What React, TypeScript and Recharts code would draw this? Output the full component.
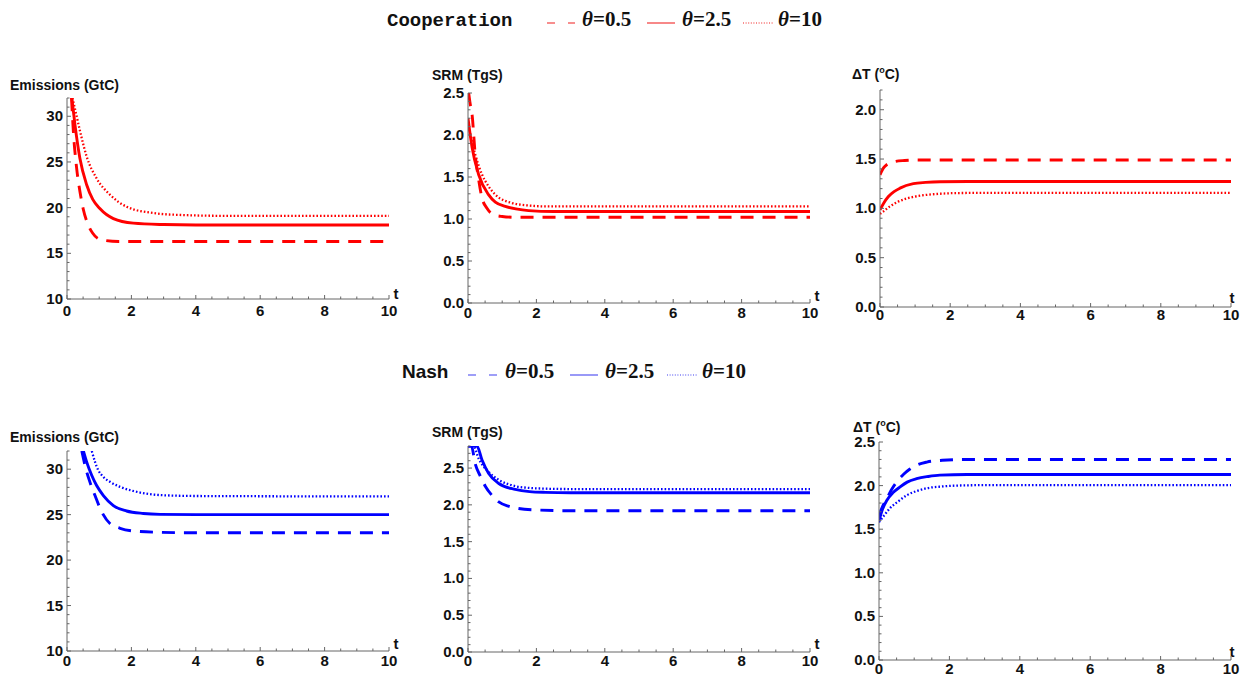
import React from "react";
import { LineChart, Line, XAxis, YAxis } from "recharts";

// time points (t) and values, one pair of arrays per curve
// Cooperation — emissions (GtC)
const coopEmisDashT = [0.14, 0.2, 0.3, 0.4, 0.5, 0.66, 0.8, 0.97, 1.2, 1.6, 2.5, 10];
const coopEmisDashV = [32, 28.2, 24.3, 21.8, 19.9, 18.1, 17.2, 16.6, 16.4, 16.3, 16.3, 16.3];
const coopEmisSolidT = [0.15, 0.25, 0.4, 0.61, 0.8, 1.02, 1.44, 2.06, 3, 4, 10];
const coopEmisSolidV = [32, 29.0, 25.4, 22.5, 20.9, 19.9, 18.8, 18.3, 18.15, 18.1, 18.1];
const coopEmisDotT = [0.17, 0.3, 0.43, 0.61, 0.92, 1.34, 1.85, 2.7, 3.5, 5, 10];
const coopEmisDotV = [32, 30.0, 28.0, 25.6, 23.2, 21.4, 20.1, 19.4, 19.2, 19.1, 19.1];

// Cooperation — SRM (TgS)
const coopSrmDashT = [0.02, 0.06, 0.12, 0.21, 0.3, 0.41, 0.55, 0.75, 1.0, 1.4, 2, 10];
const coopSrmDashV = [2.5, 2.38, 2.24, 1.77, 1.5, 1.25, 1.13, 1.05, 1.03, 1.02, 1.02, 1.02];
const coopSrmSolidT = [0, 0.12, 0.31, 0.6, 0.8, 1.09, 1.4, 1.77, 2.5, 4, 10];
const coopSrmSolidV = [2.2, 1.85, 1.53, 1.29, 1.2, 1.15, 1.12, 1.1, 1.09, 1.09, 1.09];
const coopSrmDotT = [0, 0.1, 0.21, 0.41, 0.6, 0.8, 1.29, 1.8, 2.26, 3.5, 10];
const coopSrmDotV = [2.15, 1.95, 1.77, 1.53, 1.39, 1.29, 1.19, 1.16, 1.15, 1.15, 1.15];

// Cooperation — temperature change (°C)
const coopTempDashT = [0, 0.1, 0.2, 0.43, 0.7, 1, 2, 10];
const coopTempDashV = [1.34, 1.41, 1.445, 1.475, 1.485, 1.49, 1.49, 1.49];
const coopTempSolidT = [0, 0.1, 0.24, 0.4, 0.57, 0.95, 1.3, 1.71, 2.5, 10];
const coopTempSolidV = [0.985, 1.05, 1.12, 1.17, 1.205, 1.25, 1.263, 1.27, 1.272, 1.272];
const coopTempDotT = [0, 0.1, 0.28, 0.5, 0.76, 1.0, 1.33, 1.7, 2.2, 3, 10];
const coopTempDotV = [0.944, 0.97, 1.02, 1.065, 1.1, 1.12, 1.137, 1.148, 1.155, 1.157, 1.157];

// Nash — emissions (GtC)
const nashEmisDashT = [0.46, 0.56, 0.71, 0.87, 1.08, 1.34, 1.65, 2.06, 2.9, 4, 10];
const nashEmisDashV = [32, 30.4, 28.6, 27.1, 25.3, 24.0, 23.5, 23.2, 23.05, 23.0, 23.0];
const nashEmisSolidT = [0.51, 0.61, 0.77, 0.92, 1.13, 1.44, 1.85, 2.37, 2.89, 4, 10];
const nashEmisSolidV = [32, 30.8, 29.3, 28.2, 27.1, 26.0, 25.4, 25.13, 25.03, 25.0, 25.0];
const nashEmisDotT = [0.77, 0.87, 0.97, 1.13, 1.34, 1.65, 2.06, 2.47, 2.9, 4, 10];
const nashEmisDotV = [32, 30.8, 29.9, 29.15, 28.6, 28.05, 27.6, 27.3, 27.15, 27.05, 27.0];

// Nash — SRM (TgS)
const nashSrmDashT = [0, 0.1, 0.21, 0.35, 0.51, 0.7, 0.9, 1.2, 1.48, 2, 3, 10];
const nashSrmDashV = [2.8, 2.8, 2.56, 2.4, 2.25, 2.13, 2.04, 1.98, 1.95, 1.93, 1.92, 1.92];
const nashSrmSolidT = [0, 0.26, 0.41, 0.6, 0.9, 1.38, 1.8, 2.26, 3, 10];
const nashSrmSolidV = [2.8, 2.8, 2.61, 2.43, 2.29, 2.21, 2.18, 2.17, 2.165, 2.165];
const nashSrmDotT = [0, 0.16, 0.31, 0.6, 0.9, 1.38, 1.8, 2.26, 3, 10];
const nashSrmDotV = [2.8, 2.8, 2.63, 2.45, 2.34, 2.255, 2.23, 2.22, 2.215, 2.215];

// Nash — temperature change (°C)
const nashTempDashT = [0, 0.1, 0.22, 0.35, 0.5, 0.7, 0.88, 1.1, 1.36, 1.8, 2.5, 10];
const nashTempDashV = [1.66, 1.76, 1.85, 1.95, 2.04, 2.13, 2.19, 2.24, 2.27, 2.29, 2.3, 2.3];
const nashTempSolidT = [0, 0.1, 0.22, 0.4, 0.6, 0.8, 1.07, 1.4, 1.73, 2.5, 10];
const nashTempSolidV = [1.6, 1.73, 1.83, 1.92, 1.985, 2.04, 2.08, 2.105, 2.12, 2.127, 2.127];
const nashTempDotT = [0, 0.15, 0.31, 0.55, 0.79, 1.05, 1.36, 1.8, 2.2, 3, 10];
const nashTempDotV = [1.58, 1.66, 1.74, 1.82, 1.89, 1.935, 1.97, 1.99, 2.0, 2.005, 2.005];

const thetaLabels = ["0.5", "2.5", "10"];

const RED = "#ff0000";
const BLUE = "#0000ff";
const SANS = '"Liberation Sans", Arial, sans-serif';
const SERIF = '"Liberation Serif", "Times New Roman", serif';
const MONO = '"Liberation Mono", "DejaVu Sans Mono", monospace';
const AXIS = "#666";

const PAD_L = 50;
const PAD_T = 20;
const PAD_R = 24;
const PAD_B = 32;

type Style = "dash" | "solid" | "dot";

function pts(t: number[], v: number[]) {
  return t.map((x, i) => ({ t: x, v: v[i] }));
}

function steps(a: number, b: number, s: number) {
  const out: number[] = [];
  const n = Math.round((b - a) / s);
  for (let i = 0; i <= n; i++) out.push(Math.round((a + i * s) * 1000) / 1000);
  return out;
}

function isMajor(v: number, major: number) {
  const r = v / major;
  return Math.abs(r - Math.round(r)) < 1e-6;
}

const lineStyle: Record<Style, { strokeWidth: number; strokeDasharray?: string }> = {
  solid: { strokeWidth: 2.9 },
  dash: { strokeWidth: 2.9, strokeDasharray: "13 9" },
  dot: { strokeWidth: 2.3, strokeDasharray: "1.6 2" },
};

type PanelProps = {
  box: { x0: number; x1: number; yTop: number; yBot: number };
  yDomain: [number, number];
  yMajor: number;
  yMinor: number;
  decimals: number;
  color: string;
  labelDy: number; // baseline of x tick labels below the axis
  tDx: number;
  tDy: number;
  series: { style: Style; data: { t: number; v: number }[] }[];
};

function Panel({ box, yDomain, yMajor, yMinor, decimals, color, labelDy, tDx, tDy, series }: PanelProps) {
  const w = box.x1 - box.x0;
  const h = box.yBot - box.yTop;
  const xTicks = steps(0, 10, 0.5);
  const yTicks = steps(yDomain[0], yDomain[1], yMinor);

  const yTick = (p: any) => {
    const major = isMajor(p.payload.value, yMajor);
    return (
      <g>
        <line x1={p.x} x2={p.x + (major ? 4 : 2.5)} y1={p.y} y2={p.y} stroke={AXIS} />
        {major && (
          <text x={p.x - 4} y={p.y + 5} textAnchor="end" fontFamily={SANS} fontWeight="bold" fontSize={15} fill="#111">
            {Number(p.payload.value).toFixed(decimals)}
          </text>
        )}
      </g>
    );
  };

  const xTick = (p: any) => {
    const major = isMajor(p.payload.value, 2);
    return (
      <g>
        <line x1={p.x} x2={p.x} y1={p.y} y2={p.y - (major ? 4 : 2.5)} stroke={AXIS} />
        {major && (
          <text x={p.x} y={p.y + labelDy} textAnchor="middle" fontFamily={SANS} fontWeight="bold" fontSize={15} fill="#111">
            {p.payload.value}
          </text>
        )}
      </g>
    );
  };

  return (
    <div style={{ position: "absolute", left: box.x0 - PAD_L, top: box.yTop - PAD_T }}>
      <LineChart
        width={w + PAD_L + PAD_R}
        height={h + PAD_T + PAD_B}
        margin={{ top: PAD_T, right: PAD_R, bottom: 0, left: 0 }}
      >
        <XAxis
          type="number"
          dataKey="t"
          domain={[0, 10]}
          allowDataOverflow
          ticks={xTicks}
          interval={0}
          height={PAD_B}
          tickSize={0}
          tickMargin={0}
          tickLine={false}
          axisLine={{ stroke: AXIS }}
          tick={xTick}
          label={() => (
            <text
              x={w + PAD_L + tDx}
              y={h + PAD_T + tDy}
              textAnchor="middle"
              fontFamily={SANS}
              fontWeight="bold"
              fontSize={15}
              fill="#111"
            >
              t
            </text>
          )}
        />
        <YAxis
          type="number"
          dataKey="v"
          domain={yDomain}
          allowDataOverflow
          ticks={yTicks}
          interval={0}
          width={PAD_L}
          tickSize={0}
          tickMargin={0}
          tickLine={false}
          axisLine={{ stroke: AXIS }}
          tick={yTick}
        />
        {series.map((s, i) => (
          <Line
            key={i}
            data={s.data}
            dataKey="v"
            type="monotone"
            stroke={color}
            dot={false}
            activeDot={false}
            isAnimationActive={false}
            strokeLinecap="butt"
            {...lineStyle[s.style]}
          />
        ))}
      </LineChart>
    </div>
  );
}

function Legend({ title, titleFont, titleSize, titleX, y, color, samples, labelsX }: any) {
  const styles: Style[] = ["dash", "solid", "dot"];
  const dashes: Record<Style, string | undefined> = { dash: "8 13", solid: undefined, dot: "1 1.6" };
  return (
    <g>
      <text x={titleX} y={y} fontFamily={titleFont} fontWeight="bold" fontSize={titleSize} fill="#111">
        {title}
      </text>
      {styles.map((st, i) => (
        <g key={st}>
          <line
            x1={samples[i][0]}
            x2={samples[i][1]}
            y1={y - 3}
            y2={y - 3}
            stroke={color}
            strokeWidth={st === "dot" ? 1.3 : 1.6}
            strokeDasharray={dashes[st]}
          />
          <text x={labelsX[i]} y={y} fontFamily={SERIF} fontWeight="bold" fontSize={21} fill="#111">
            <tspan fontStyle="italic">θ</tspan>={thetaLabels[i]}
          </text>
        </g>
      ))}
    </g>
  );
}

function Title({ x, y, text }: { x: number; y: number; text: string }) {
  return (
    <text x={x} y={y} fontFamily={SANS} fontWeight="bold" fontSize={14} fill="#111">
      {text}
    </text>
  );
}

function TempTitle({ x, y }: { x: number; y: number }) {
  return (
    <text x={x} y={y} fontFamily={SANS} fontWeight="bold" fontSize={14} fill="#111">
      ΔT (
      <tspan fontSize={9} dy={-6}>
        o
      </tspan>
      <tspan dy={6}>C)</tspan>
    </text>
  );
}

export default function App() {
  return (
    <div style={{ position: "absolute", left: 0, top: 0, width: 1243, height: 677, background: "#fff" }}>
      <Panel
        box={{ x0: 67, x1: 389, yTop: 98, yBot: 299 }}
        yDomain={[10, 32]}
        yMajor={5}
        yMinor={1}
        decimals={0}
        color={RED}
        labelDy={17}
        tDx={7}
        tDy={0}
        series={[
          { style: "dash", data: pts(coopEmisDashT, coopEmisDashV) },
          { style: "solid", data: pts(coopEmisSolidT, coopEmisSolidV) },
          { style: "dot", data: pts(coopEmisDotT, coopEmisDotV) },
        ]}
      />
      <Panel
        box={{ x0: 468, x1: 810, yTop: 93, yBot: 303 }}
        yDomain={[0, 2.5]}
        yMajor={0.5}
        yMinor={0.1}
        decimals={1}
        color={RED}
        labelDy={15}
        tDx={7}
        tDy={-2}
        series={[
          { style: "dash", data: pts(coopSrmDashT, coopSrmDashV) },
          { style: "solid", data: pts(coopSrmSolidT, coopSrmSolidV) },
          { style: "dot", data: pts(coopSrmDotT, coopSrmDotV) },
        ]}
      />
      <Panel
        box={{ x0: 880, x1: 1231, yTop: 90, yBot: 307 }}
        yDomain={[0, 2.2]}
        yMajor={0.5}
        yMinor={0.1}
        decimals={1}
        color={RED}
        labelDy={13}
        tDx={1}
        tDy={-4}
        series={[
          { style: "dash", data: pts(coopTempDashT, coopTempDashV) },
          { style: "solid", data: pts(coopTempSolidT, coopTempSolidV) },
          { style: "dot", data: pts(coopTempDotT, coopTempDotV) },
        ]}
      />
      <Panel
        box={{ x0: 67, x1: 389, yTop: 451, yBot: 651 }}
        yDomain={[10, 32]}
        yMajor={5}
        yMinor={1}
        decimals={0}
        color={BLUE}
        labelDy={15}
        tDx={7}
        tDy={-2}
        series={[
          { style: "dash", data: pts(nashEmisDashT, nashEmisDashV) },
          { style: "solid", data: pts(nashEmisSolidT, nashEmisSolidV) },
          { style: "dot", data: pts(nashEmisDotT, nashEmisDotV) },
        ]}
      />
      <Panel
        box={{ x0: 468, x1: 810, yTop: 446, yBot: 652 }}
        yDomain={[0, 2.8]}
        yMajor={0.5}
        yMinor={0.1}
        decimals={1}
        color={BLUE}
        labelDy={14}
        tDx={7}
        tDy={-3}
        series={[
          { style: "dash", data: pts(nashSrmDashT, nashSrmDashV) },
          { style: "solid", data: pts(nashSrmSolidT, nashSrmSolidV) },
          { style: "dot", data: pts(nashSrmDotT, nashSrmDotV) },
        ]}
      />
      <Panel
        box={{ x0: 879, x1: 1231, yTop: 442, yBot: 660 }}
        yDomain={[0, 2.5]}
        yMajor={0.5}
        yMinor={0.1}
        decimals={1}
        color={BLUE}
        labelDy={14}
        tDx={1}
        tDy={-3}
        series={[
          { style: "dash", data: pts(nashTempDashT, nashTempDashV) },
          { style: "solid", data: pts(nashTempSolidT, nashTempSolidV) },
          { style: "dot", data: pts(nashTempDotT, nashTempDotV) },
        ]}
      />

      <svg
        width={1243}
        height={677}
        style={{ position: "absolute", left: 0, top: 0, pointerEvents: "none" }}
      >
        <Legend
          title="Cooperation"
          titleFont={MONO}
          titleSize={19}
          titleX={387}
          y={26}
          color="#f56a6a"
          samples={[[547, 575], [647, 675], [743, 773]]}
          labelsX={[582, 682, 778]}
        />
        <Legend
          title="Nash"
          titleFont={SANS}
          titleSize={19}
          titleX={402}
          y={378}
          color="#7f7ff5"
          samples={[[468, 498], [570, 598], [667, 697]]}
          labelsX={[505, 605, 702]}
        />
        <Title x={10} y={90} text="Emissions (GtC)" />
        <Title x={432} y={80} text="SRM (TgS)" />
        <TempTitle x={852} y={79} />
        <Title x={10} y={442} text="Emissions (GtC)" />
        <Title x={432} y={437} text="SRM (TgS)" />
        <TempTitle x={853} y={432} />
      </svg>
    </div>
  );
}
